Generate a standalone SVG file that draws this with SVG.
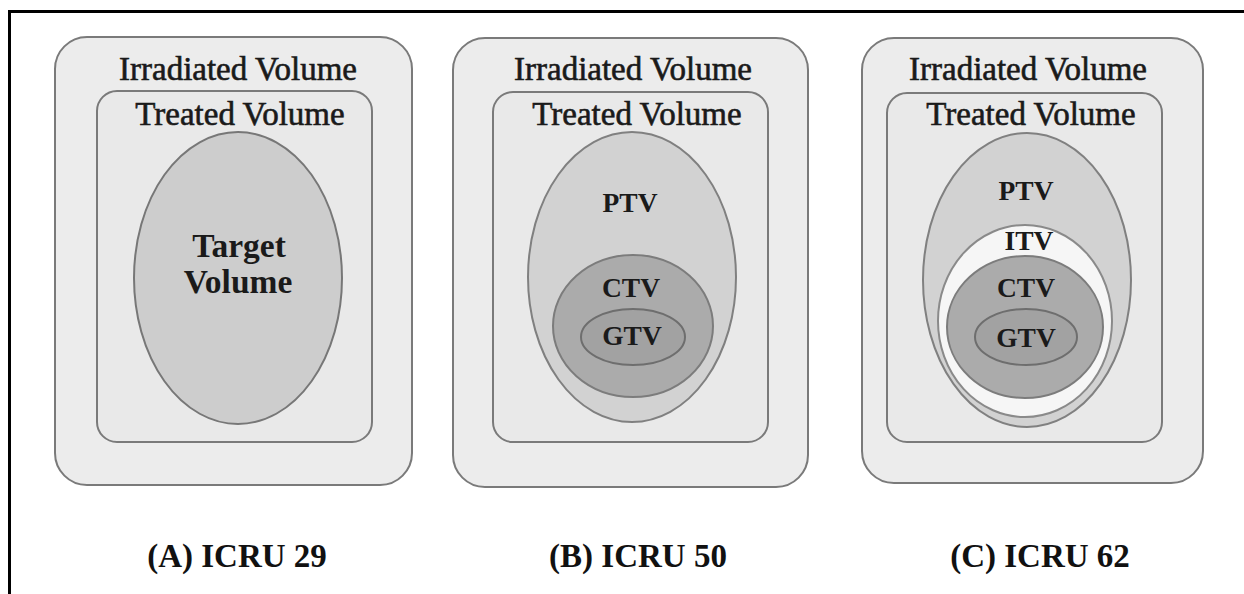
<svg xmlns="http://www.w3.org/2000/svg" width="1244" height="594" viewBox="0 0 1244 594">
  <style>
    .frame { fill: none; stroke: #000; stroke-width: 3; }
    .outer { fill: #ececec; stroke: #7a7a7a; stroke-width: 2; }
    .inner { fill: #e9e9e9; stroke: #7a7a7a; stroke-width: 2; }
    .tv { fill: #cdcdcd; stroke: #777; stroke-width: 2; }
    .ptv { fill: #d2d2d2; stroke: #808080; stroke-width: 2; }
    .itv { fill: #f6f6f6; stroke: #8a8a8a; stroke-width: 2; }
    .ctv { fill: #ababab; stroke: #7c7c7c; stroke-width: 2; }
    .gtv { fill: #a2a2a2; stroke: #6e6e6e; stroke-width: 2; }
    .vol { font-family: "Liberation Serif", "Times New Roman", serif; font-size: 33px; fill: #1a1a1a; text-anchor: middle; stroke: #1a1a1a; stroke-width: 0.6; }
    .lbl { font-family: "Liberation Serif", "Times New Roman", serif; font-size: 27.5px; font-weight: bold; fill: #1a1a1a; text-anchor: middle; }
    .big { font-size: 33.5px; }
    .cap { font-family: "Liberation Serif", "Times New Roman", serif; font-size: 33px; font-weight: bold; fill: #111; text-anchor: middle; }
  </style>

  <!-- page frame (top and left edges) -->
  <path class="frame" d="M9.5 594 V11.5 H1244"/>

  <!-- (A) ICRU 29 -->
  <g id="panel-a">
    <rect class="outer" x="55" y="37" width="357" height="448" rx="32"/>
    <rect class="inner" x="97" y="91" width="275" height="351" rx="20"/>
    <ellipse class="tv" cx="238" cy="278" rx="104" ry="146"/>
    <text class="vol" x="238" y="80">Irradiated Volume</text>
    <text class="vol" x="240" y="125">Treated Volume</text>
    <text class="lbl big" x="239" y="257">Target</text>
    <text class="lbl big" x="238" y="293">Volume</text>
  </g>

  <!-- (B) ICRU 50 -->
  <g id="panel-b">
    <rect class="outer" x="453" y="38" width="355" height="449" rx="32"/>
    <rect class="inner" x="493" y="92" width="275" height="350" rx="20"/>
    <ellipse class="ptv" cx="632" cy="277" rx="104" ry="145"/>
    <ellipse class="ctv" cx="633" cy="326" rx="80" ry="71"/>
    <ellipse class="gtv" cx="633" cy="337" rx="52" ry="28"/>
    <text class="vol" x="633" y="80">Irradiated Volume</text>
    <text class="vol" x="637" y="125">Treated Volume</text>
    <text class="lbl" x="630" y="212">PTV</text>
    <text class="lbl" x="631" y="297">CTV</text>
    <text class="lbl" x="632" y="345">GTV</text>
  </g>

  <!-- (C) ICRU 62 -->
  <g id="panel-c">
    <rect class="outer" x="862" y="38" width="341" height="445" rx="32"/>
    <rect class="inner" x="887" y="93" width="275" height="349" rx="20"/>
    <ellipse class="ptv" cx="1027" cy="280" rx="104" ry="147"/>
    <ellipse class="itv" cx="1025" cy="321" rx="87" ry="96"/>
    <ellipse class="ctv" cx="1025" cy="327" rx="78" ry="71"/>
    <ellipse class="gtv" cx="1026" cy="337" rx="51" ry="28"/>
    <text class="vol" x="1028" y="80">Irradiated Volume</text>
    <text class="vol" x="1031" y="125">Treated Volume</text>
    <text class="lbl" x="1026" y="200">PTV</text>
    <text class="lbl" x="1029" y="250">ITV</text>
    <text class="lbl" x="1026" y="297">CTV</text>
    <text class="lbl" x="1026" y="347">GTV</text>
  </g>

  <!-- captions -->
  <g id="captions">
    <text class="cap" x="237" y="567">(A) ICRU 29</text>
    <text class="cap" x="638" y="567">(B) ICRU 50</text>
    <text class="cap" x="1040" y="567">(C) ICRU 62</text>
  </g>
</svg>
